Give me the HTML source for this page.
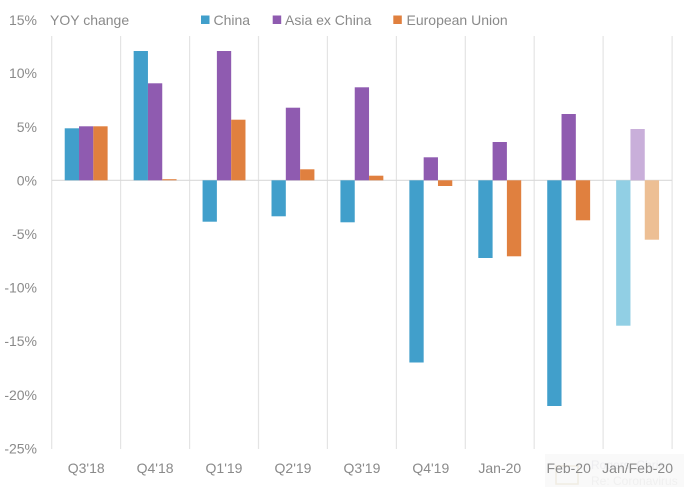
<!DOCTYPE html>
<html>
<head>
<meta charset="utf-8">
<style>
  html,body{margin:0;padding:0;background:#fff;}
  svg{display:block;}
  text{font-family:"Liberation Sans",sans-serif;fill:#8a8a8a;font-size:14px;}
</style>
</head>
<body>
<svg width="684" height="487" viewBox="0 0 684 487" xmlns="http://www.w3.org/2000/svg">
  <rect x="0" y="0" width="684" height="487" fill="#ffffff"/>
  <!-- faint bottom-right overlay -->
  <rect x="545" y="454" width="139" height="33" fill="#f9f9f9"/>
  <rect x="556" y="466" width="22" height="18" fill="none" stroke="#f0ece2" stroke-width="1.5"/>
  <text x="591" y="469" style="font-size:12px;fill:#ededf0">Rogers, Chris</text>
  <text x="591" y="485" style="font-size:12px;fill:#f0f0f0">Re: Coronavirus</text>

  <!-- vertical gridlines -->
  <g stroke="#e4e4e4" stroke-width="1.2">
    <line x1="51.7" y1="36" x2="51.7" y2="449"/>
    <line x1="120.6" y1="36" x2="120.6" y2="449"/>
    <line x1="189.6" y1="36" x2="189.6" y2="449"/>
    <line x1="258.5" y1="36" x2="258.5" y2="449"/>
    <line x1="327.4" y1="36" x2="327.4" y2="449"/>
    <line x1="396.4" y1="36" x2="396.4" y2="449"/>
    <line x1="465.3" y1="36" x2="465.3" y2="449"/>
    <line x1="534.2" y1="36" x2="534.2" y2="449"/>
    <line x1="603.1" y1="36" x2="603.1" y2="449"/>
    <line x1="672.1" y1="36" x2="672.1" y2="449"/>
  </g>
  <!-- zero line -->
  <line x1="51.7" y1="180.3" x2="672.1" y2="180.3" stroke="#d9d9d9" stroke-width="1.2"/>

  <!-- China -->
  <g fill="#419fcb">
    <rect x="64.72" y="128.3" width="14.3" height="52.0"/>
    <rect x="133.65" y="51.0" width="14.3" height="129.3"/>
    <rect x="202.58" y="180.3" width="14.3" height="41.4"/>
    <rect x="271.51" y="180.3" width="14.3" height="36.0"/>
    <rect x="340.44" y="180.3" width="14.3" height="42.0"/>
    <rect x="409.37" y="180.3" width="14.3" height="182.2"/>
    <rect x="478.30" y="180.3" width="14.3" height="77.7"/>
    <rect x="547.23" y="180.3" width="14.3" height="225.7"/>
  </g>
  <rect x="616.16" y="180.3" width="14.3" height="145.4" fill="#91cfe4"/>

  <!-- Asia ex China -->
  <g fill="#8f5bb0">
    <rect x="79.02" y="126.3" width="14.3" height="54.0"/>
    <rect x="147.95" y="83.3" width="14.3" height="97.0"/>
    <rect x="216.88" y="51.0" width="14.3" height="129.3"/>
    <rect x="285.81" y="107.7" width="14.3" height="72.6"/>
    <rect x="354.74" y="87.3" width="14.3" height="93.0"/>
    <rect x="423.67" y="157.3" width="14.3" height="23.0"/>
    <rect x="492.60" y="142.0" width="14.3" height="38.3"/>
    <rect x="561.53" y="114.0" width="14.3" height="66.3"/>
  </g>
  <rect x="630.46" y="129.0" width="14.3" height="51.3" fill="#c9afda"/>

  <!-- European Union -->
  <g fill="#e0803f">
    <rect x="93.32" y="126.3" width="14.3" height="54.0"/>
    <rect x="162.25" y="179.2" width="14.3" height="1.1"/>
    <rect x="231.18" y="119.7" width="14.3" height="60.6"/>
    <rect x="300.11" y="169.3" width="14.3" height="11.0"/>
    <rect x="369.04" y="175.7" width="14.3" height="4.6"/>
    <rect x="437.97" y="180.3" width="14.3" height="5.7"/>
    <rect x="506.90" y="180.3" width="14.3" height="76.0"/>
    <rect x="575.83" y="180.3" width="14.3" height="40.0"/>
  </g>
  <rect x="644.76" y="180.3" width="14.3" height="59.4" fill="#edbf94"/>

  <!-- y axis labels -->
  <g text-anchor="end">
    <text x="37" y="25">15%</text>
    <text x="37" y="78">10%</text>
    <text x="37" y="132">5%</text>
    <text x="37" y="185.5">0%</text>
    <text x="37" y="239">-5%</text>
    <text x="37" y="292.5">-10%</text>
    <text x="37" y="346">-15%</text>
    <text x="37" y="400">-20%</text>
    <text x="37" y="453.5">-25%</text>
  </g>

  <!-- title & legend -->
  <text x="50" y="25">YOY change</text>
  <rect x="201" y="15.5" width="8.5" height="8.5" fill="#419fcb"/>
  <text x="213.5" y="25">China</text>
  <rect x="272.7" y="15.5" width="8.5" height="8.5" fill="#8f5bb0"/>
  <text x="285" y="25">Asia ex China</text>
  <rect x="393.3" y="15.5" width="8.5" height="8.5" fill="#e0803f"/>
  <text x="406.5" y="25">European Union</text>

  <!-- x axis labels -->
  <g text-anchor="middle">
    <text x="86.2" y="473">Q3'18</text>
    <text x="155.1" y="473">Q4'18</text>
    <text x="224.0" y="473">Q1'19</text>
    <text x="293.0" y="473">Q2'19</text>
    <text x="361.9" y="473">Q3'19</text>
    <text x="430.8" y="473">Q4'19</text>
    <text x="499.8" y="473">Jan-20</text>
    <text x="568.7" y="473">Feb-20</text>
    <text x="637.6" y="473">Jan/Feb-20</text>
  </g>
</svg>
</body>
</html>
